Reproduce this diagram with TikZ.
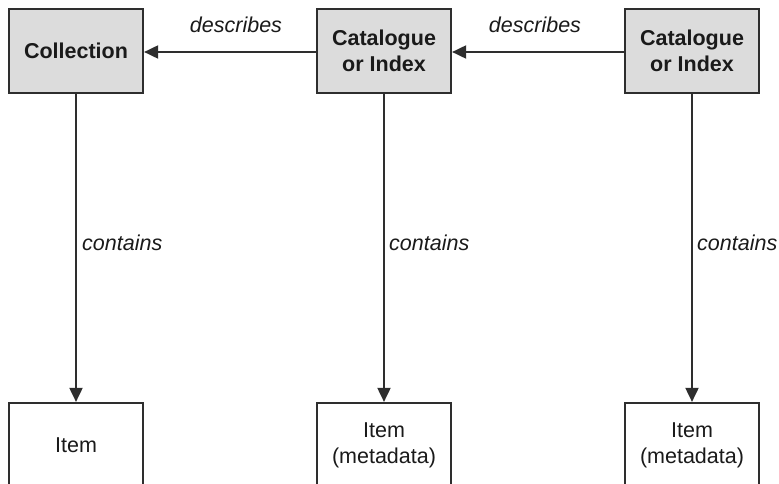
\documentclass[tikz,border=0pt]{standalone}
\usepackage{fontspec}
\setmainfont{Liberation Sans}
\usetikzlibrary{arrows.meta}
\definecolor{boxfill}{HTML}{DCDCDC}
\definecolor{edge}{HTML}{2E2E2E}
\definecolor{ink}{HTML}{1A1A1A}
\tikzset{
  topbox/.style={draw=edge, fill=boxfill, line width=2.2pt, minimum width=134pt, minimum height=84pt,
    inner sep=0pt, align=center, font=\fontsize{21.5}{26}\selectfont\bfseries, text=ink},
  itembox/.style={draw=edge, fill=white, line width=2.2pt, minimum width=134pt, minimum height=84pt,
    inner sep=0pt, align=center, font=\fontsize{21.5}{26}\selectfont, text=ink},
  lab/.style={font=\fontsize{21.5}{26}\selectfont\itshape, text=ink, inner sep=0pt},
  conn/.style={draw=edge, line width=1.9pt, -{Triangle[length=14pt,width=13pt]}}
}
\begin{document}
\begin{tikzpicture}[x=1pt,y=-1pt]
\useasboundingbox (0,0) rectangle (779,484);
\clip (0,0) rectangle (779,484);
\node[topbox] (coll) at (76,51) {Collection};
\node[topbox] (cat1) at (384,51) {Catalogue\\or Index};
\node[topbox] (cat2) at (692,51) {Catalogue\\or Index};
\node[itembox] (item1) at (76,445) {Item};
\node[itembox] (item2) at (384,445) {Item\\(metadata)};
\node[itembox] (item3) at (692,445) {Item\\(metadata)};
\draw[conn] (cat1.west |- 0,52) -- (coll.east |- 0,52);
\draw[conn] (cat2.west |- 0,52) -- (cat1.east |- 0,52);
\node[lab] (d1) at (236,25) {describes};
\node[lab] (d2) at (535,25) {describes};
\draw[conn] (coll.south) -- (item1.north);
\draw[conn] (cat1.south) -- (item2.north);
\draw[conn] (cat2.south) -- (item3.north);
\node[lab, anchor=west] (c1) at (82,243) {contains};
\node[lab, anchor=west] (c2) at (389,243) {contains};
\node[lab, anchor=west] (c3) at (697,243) {contains};
\end{tikzpicture}
\end{document}
